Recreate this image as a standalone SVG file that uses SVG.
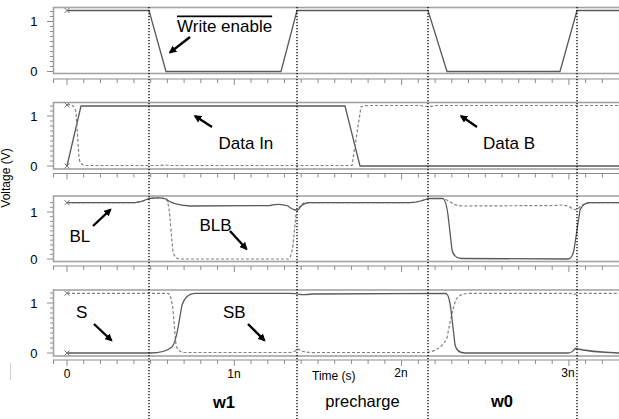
<svg xmlns="http://www.w3.org/2000/svg" width="619" height="419" viewBox="0 0 619 419">
<style>
.frame{fill:none;stroke:#a3a3a3;stroke-width:1.6}
.axis{fill:none;stroke:#8c8c8c;stroke-width:1.2}
.tick{fill:none;stroke:#8c8c8c;stroke-width:1}
.sig{fill:none;stroke:#5a5a5a;stroke-width:1.3}
.dash{fill:none;stroke:#808080;stroke-width:1.2;stroke-dasharray:3 2}
.mark{fill:none;stroke:#777;stroke-width:1}
.vdot{fill:none;stroke:#000;stroke-width:1.3;stroke-dasharray:1.3 1.7}
.arrow{fill:none;stroke:#000;stroke-width:2.4;marker-end:url(#ah)}
text{font-family:"Liberation Sans",Arial,sans-serif;fill:#000}
.lbl{font-size:17px}
.num{font-size:13px;text-anchor:end}
.xn{font-size:12px;text-anchor:middle}
.ph{font-size:16.5px;text-anchor:middle}
.b{font-weight:bold}
</style>
<defs>
<marker id="ah" viewBox="0 0 10 10" refX="8" refY="5" markerWidth="3.2" markerHeight="3.2" orient="auto" markerUnits="strokeWidth">
<path d="M0,0 L10,5 L0,10 Z" fill="#000"/>
</marker>
<path id="xticks" class="tick" d="M53.5,0v4 M67,0v6 M83.7,0v4 M100.5,0v4 M117.2,0v4 M133.9,0v4 M150.7,0v4 M167.4,0v4 M184.1,0v4 M200.8,0v4 M217.6,0v4 M234.3,0v6 M251,0v4 M267.8,0v4 M284.5,0v4 M301.2,0v4 M318,0v4 M334.7,0v4 M351.4,0v4 M368.1,0v4 M384.9,0v4 M401.6,0v6 M418.3,0v4 M435.1,0v4 M451.8,0v4 M468.5,0v4 M485.3,0v4 M502,0v4 M518.7,0v4 M535.4,0v4 M552.2,0v4 M568.9,0v6 M585.6,0v4 M602.4,0v4"/>
<path id="yticks" class="tick" d="M47,0h6 M50,-5h3 M50,-10h3 M50,-15h3 M50,-20h3 M50,-25h3 M50,-30h3 M50,-35h3 M50,-40h3 M50,-45h3 M47,-50h6 M50,-55h3 M50,-60h3"/>
<path id="xm" class="mark" d="M-2.5,-2.5L2.5,2.5M-2.5,2.5L2.5,-2.5"/>
</defs>

<text x="10" y="178" font-size="12" text-anchor="middle" transform="rotate(-90 10 178)">Voltage (V)</text>
<line x1="10.5" y1="363" x2="10.5" y2="380" stroke="#d0d0d0" stroke-width="1"/>

<g id="panel-write-enable">
<rect class="frame" x="53.5" y="7.5" width="580" height="66"/>
<use href="#yticks" transform="translate(0,71.5)"/>
<line class="axis" x1="53" y1="79" x2="619" y2="79"/>
<use href="#xticks" transform="translate(0,79)"/>
<text class="num" x="37.5" y="26">1</text>
<text class="num" x="37.5" y="76">0</text>
<path class="sig" d="M67,10.5 L149,10.5 L166,71.5 L281,71.5 L297,10.5 L428,10.5 L447,71.5 L560,71.5 L577,10.5 L619,10.5"/>
<use href="#xm" transform="translate(67,10.5)"/>
<text class="lbl" x="177" y="31.5" text-decoration="overline">Write enable</text>
</g>

<g id="panel-data">
<rect class="frame" x="53.5" y="102.5" width="580" height="66.5"/>
<use href="#yticks" transform="translate(0,166)"/>
<line class="axis" x1="53" y1="173.5" x2="619" y2="173.5"/>
<use href="#xticks" transform="translate(0,173.5)"/>
<text class="num" x="37.5" y="120.5">1</text>
<text class="num" x="37.5" y="170.5">0</text>
<path class="sig" d="M67,166 L81,106 L345,106 L360,166 L619,166"/>
<path class="dash" d="M67,105 Q74,103 76,112 L79,158 Q80,165 85,165.5 L160,165.5 Q165,164.5 170,165.5 L352,165.5 L361,107 Q363,105.5 370,105.5 L420,105.5 Q428,107.5 436,105.5 L619,105.5"/>
<use href="#xm" transform="translate(67,105)"/>
<use href="#xm" transform="translate(67,166)"/>
<text class="lbl" x="218.5" y="149">Data In</text>
<text class="lbl" x="483" y="149">Data B</text>
</g>

<g id="panel-bitlines">
<rect class="frame" x="53.5" y="196" width="580" height="65.5"/>
<use href="#yticks" transform="translate(0,259) scale(1,0.94)"/>
<line class="axis" x1="53" y1="266" x2="619" y2="266"/>
<use href="#xticks" transform="translate(0,266)"/>
<text class="num" x="37.5" y="217">1</text>
<text class="num" x="37.5" y="263.5">0</text>
<path class="dash" d="M67,202.7 L135,202.7 Q142,202 149,198.5 Q160,197 166,199 Q169,201 171,230 L173,252 Q175,259 180,259 L288,259 Q291,259 293,245 L296,215 Q299,204 305,202.7 L410,202.7 Q420,202 428,198.5 L443,198.5 Q447,200 452,203 Q456,206 465,206 L555,205.5 Q563,204 570,207 Q575,211 578,209 Q583,203 590,202.7 L619,202.7"/>
<path class="sig" d="M67,202.7 L135,202.7 Q142,202 149,198.5 Q160,197 166,199 Q172,205 190,206 L270,205.5 Q280,203 288,206 Q295,212 299,209 Q302,203 310,202.7 L410,202.7 Q420,202 428,198.5 L443,198.5 Q446,200 448,215 L452,250 Q454,258.5 462,258.5 L568,259 Q572,259 574,250 L580,210 Q583,203 590,202.7 L619,202.7"/>
<use href="#xm" transform="translate(67,202.7)"/>
<text class="lbl" x="69.5" y="241.5">BL</text>
<text class="lbl" x="199.5" y="231">BLB</text>
</g>

<g id="panel-storage">
<rect class="frame" x="53.5" y="290" width="580" height="66"/>
<use href="#yticks" transform="translate(0,353)"/>
<line class="axis" x1="53" y1="360" x2="619" y2="360"/>
<use href="#xticks" transform="translate(0,360)"/>
<text class="num" x="37.5" y="308">1</text>
<text class="num" x="37.5" y="357.5">0</text>
<path class="dash" d="M67,293.3 L168,293.3 Q171,294 173,310 L176,345 Q178,352.5 185,352.5 L292,352.5 Q296,351 298,349 Q304,353 315,352.5 L425,352.5 Q440,352 447,338 Q452,310 456,300 Q459,293.3 470,293.3 L570,293.3 Q575,295 580,293.3 L619,293.3"/>
<path class="sig" d="M67,353 L150,353 Q165,353 172,347 Q175,344 178,328 L182,305 Q186,293.3 195,293.3 L290,293.3 Q296,293.3 300,294.5 Q305,295 312,294 L446,293.3 Q449,294 451,310 L455,345 Q457,353 465,353 L568,353 Q572,353 575,348.5 Q590,352 619,353"/>
<use href="#xm" transform="translate(67,293.3)"/>
<use href="#xm" transform="translate(67,353)"/>
<text class="lbl" x="76" y="317.5">S</text>
<text class="lbl" x="223" y="317.5">SB</text>
<text class="xn" x="67" y="378">0</text>
<text class="xn" x="234" y="378">1n</text>
<text class="xn" x="401" y="377">2n</text>
<text class="xn" x="568" y="377">3n</text>
<text x="312" y="380" font-size="12">Time (s)</text>
</g>

<g id="phases">
<line class="vdot" x1="149" y1="7" x2="149" y2="419"/>
<line class="vdot" x1="297" y1="7" x2="297" y2="419"/>
<line class="vdot" x1="428" y1="7" x2="428" y2="419"/>
<line class="vdot" x1="577" y1="7" x2="577" y2="419"/>
<text class="ph b" x="224" y="408">w1</text>
<text class="ph" x="362.5" y="407">precharge</text>
<text class="ph b" x="502" y="407">w0</text>
</g>

<g id="connectors">
<line class="arrow" x1="190" y1="37" x2="170" y2="52.5"/>
<line class="arrow" x1="212" y1="127" x2="195" y2="116"/>
<line class="arrow" x1="477" y1="127" x2="461" y2="116"/>
<line class="arrow" x1="93" y1="226" x2="110.5" y2="209.5"/>
<line class="arrow" x1="230" y1="231" x2="246.5" y2="249"/>
<line class="arrow" x1="94" y1="324" x2="111.5" y2="340.5"/>
<line class="arrow" x1="248" y1="324" x2="264.5" y2="340.5"/>
</g>
</svg>
